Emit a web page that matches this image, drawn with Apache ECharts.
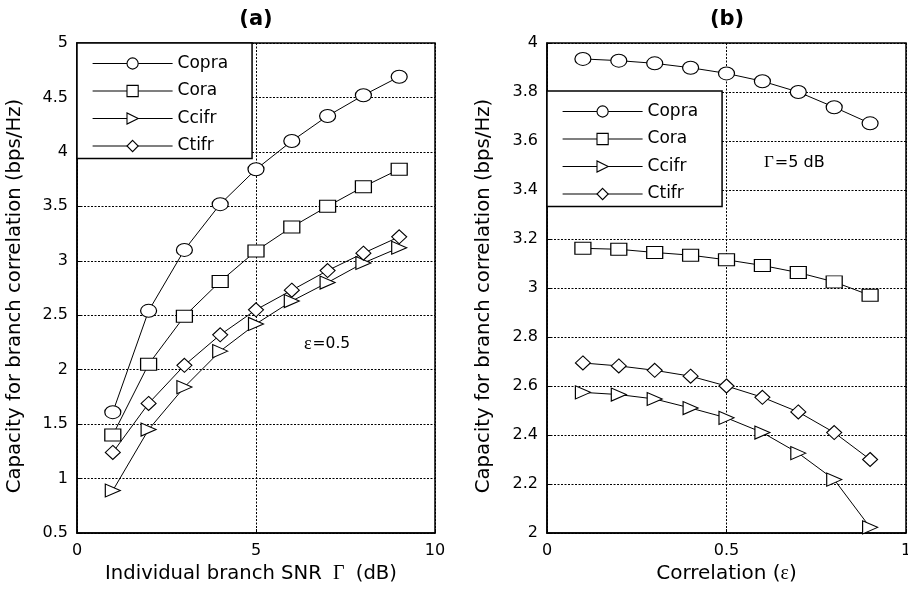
<!DOCTYPE html>
<html>
<head>
<meta charset="utf-8">
<script src="https://cdn.jsdelivr.net/npm/echarts@6/dist/echarts.min.js"></script>
<style>
  html, body { margin: 0; padding: 0; background: #fff; }
  #chart { width: 908px; height: 596px; }
</style>
</head>
<body>
<div id="chart"></div>
<script>
// Capacity for branch correlation: (a) versus branch SNR, (b) versus correlation
const seriesNames = ['Copra', 'Cora', 'Ccifr', 'Ctifr'];

// (a) epsilon = 0.5
const snrDb = [1, 2, 3, 4, 5, 6, 7, 8, 9];
const snrCopra = [1.61, 2.54, 3.10, 3.52, 3.84, 4.10, 4.33, 4.52, 4.69];
const snrCora  = [1.40, 2.05, 2.49, 2.81, 3.09, 3.31, 3.50, 3.68, 3.84];
const snrCcifr = [0.89, 1.45, 1.84, 2.17, 2.42, 2.63, 2.80, 2.98, 3.12];
const snrCtifr = [1.24, 1.69, 2.04, 2.32, 2.55, 2.73, 2.91, 3.07, 3.22];

// (b) Gamma = 5 dB
const corr = [0.1, 0.2, 0.3, 0.4, 0.5, 0.6, 0.7, 0.8, 0.9];
const corrCopra = [3.935, 3.928, 3.917, 3.899, 3.876, 3.844, 3.800, 3.738, 3.672];
const corrCora  = [3.162, 3.158, 3.145, 3.134, 3.115, 3.092, 3.063, 3.025, 2.970];
const corrCcifr = [2.574, 2.565, 2.547, 2.510, 2.470, 2.410, 2.326, 2.218, 2.023];
const corrCtifr = [2.694, 2.682, 2.664, 2.640, 2.600, 2.554, 2.494, 2.410, 2.300];

const SANS = "'DejaVu Sans', 'Liberation Sans', Arial, sans-serif";
const SERIF = "'Liberation Serif', 'DejaVu Serif', 'Times New Roman', serif";

const markers = {
  Copra: { symbol: 'circle',   symbolSize: [16, 13], symbolRotate: 0 },
  Cora:  { symbol: 'rect',     symbolSize: [16, 12], symbolRotate: 0 },
  Ccifr: { symbol: 'triangle', symbolSize: [13, 15], symbolRotate: -90 },
  Ctifr: { symbol: 'diamond',  symbolSize: [15, 14], symbolRotate: 0 }
};

function pairs(xs, ys) { return xs.map((x, i) => [x, ys[i]]); }

function makeSeries(name, xs, ys, axisIndex) {
  const m = markers[name];
  return {
    name: name,
    type: 'line',
    xAxisIndex: axisIndex,
    yAxisIndex: axisIndex,
    data: pairs(xs, ys),
    symbol: m.symbol,
    symbolSize: m.symbolSize,
    symbolRotate: m.symbolRotate,
    lineStyle: { color: '#000', width: 1 },
    itemStyle: { color: '#fff', borderColor: '#000', borderWidth: 1.1 },
    emphasis: { disabled: true },
    animation: false
  };
}

const splitStyle = { show: true, lineStyle: { color: '#000', width: 1, type: [2, 1.5] } };
const frameLine = { show: true, onZero: false, lineStyle: { color: '#000', width: 1.5 } };
const tickLabel = { color: '#000', fontSize: 16, fontFamily: SANS };

function xAxisOf(gridIndex, min, max, interval, name, fontSize, padding) {
  return {
    type: 'value', gridIndex, min, max, interval,
    axisLine: frameLine,
    axisTick: { show: true, inside: true, length: 4, lineStyle: { color: '#000' } },
    axisLabel: Object.assign({ margin: 10 }, tickLabel),
    splitLine: splitStyle,
    name: name,
    nameLocation: 'middle',
    nameGap: 29,
    nameTextStyle: {
      color: '#000', fontSize: fontSize, fontFamily: SANS, padding: padding,
      rich: { g: { fontFamily: SERIF, fontSize: 20, color: '#000', padding: [0, 5, 0, 5] },
              e: { fontFamily: SERIF, fontSize: 20, color: '#000' } }
    }
  };
}

function yAxisOf(gridIndex, min, max, interval, gap) {
  return {
    type: 'value', gridIndex, min, max, interval,
    axisLine: frameLine,
    axisTick: { show: true, inside: true, length: 4, lineStyle: { color: '#000' } },
    axisLabel: Object.assign({ margin: 9 }, tickLabel),
    splitLine: splitStyle,
    name: 'Capacity for branch correlation (bps/Hz)',
    nameLocation: 'middle',
    nameGap: gap,
    nameTextStyle: { color: '#000', fontSize: 19.7, fontFamily: SANS, padding: [0, 16, 0, 0] }
  };
}

function legendAt(left, top) {
  return {
    orient: 'vertical',
    left: left, top: top,
    data: seriesNames,
    itemWidth: 80,
    itemHeight: 14,
    itemGap: 10.5,
    padding: [12, 24, 4, 15],
    backgroundColor: '#fff',
    borderColor: '#000',
    borderWidth: 1.5,
    borderRadius: 0,
    selectedMode: false,
    lineStyle: { width: 1.2, color: '#000' },
    itemStyle: { borderWidth: 1.1, borderColor: '#000', color: '#fff' },
    textStyle: { color: '#000', fontSize: 17, fontFamily: SANS }
  };
}

const chart = echarts.init(document.getElementById('chart'), null, { renderer: 'canvas' });

const gridBase = { show: true, borderColor: '#000', borderWidth: 1.5, backgroundColor: 'transparent', containLabel: false, outerBoundsMode: 'none' };

chart.setOption({
  backgroundColor: '#fff',
  animation: false,
  grid: [
    Object.assign({ left: 77, top: 43, width: 358, height: 490 }, gridBase),
    Object.assign({ left: 547, top: 43, width: 359, height: 490 }, gridBase)
  ],
  xAxis: [
    xAxisOf(0, 0, 10, 5, 'Individual branch SNR {g|Γ} (dB)', 19.6, [0, 10, 0, 0]),
    xAxisOf(1, 0, 1, 0.5, 'Correlation ({e|ε})', 20, 0)
  ],
  yAxis: [
    yAxisOf(0, 0.5, 5, 0.5, 52),
    yAxisOf(1, 2, 4, 0.2, 53)
  ],
  legend: [legendAt(77, 43), legendAt(547, 91)],
  series: [
    makeSeries('Copra', snrDb, snrCopra, 0),
    makeSeries('Cora',  snrDb, snrCora,  0),
    makeSeries('Ccifr', snrDb, snrCcifr, 0),
    makeSeries('Ctifr', snrDb, snrCtifr, 0),
    makeSeries('Copra', corr, corrCopra, 1),
    makeSeries('Cora',  corr, corrCora,  1),
    makeSeries('Ccifr', corr, corrCcifr, 1),
    makeSeries('Ctifr', corr, corrCtifr, 1)
  ],
  graphic: [
    { type: 'text', x: 256, y: 20, style: { text: '(a)', font: 'bold 21px ' + SANS, fill: '#000', textAlign: 'center', textVerticalAlign: 'middle' } },
    { type: 'text', x: 727, y: 20, style: { text: '(b)', font: 'bold 21px ' + SANS, fill: '#000', textAlign: 'center', textVerticalAlign: 'middle' } },
    { type: 'text', x: 304, y: 344, style: {
        text: '{s|ε}{n|=0.5}', textVerticalAlign: 'middle', fill: '#000',
        rich: { s: { fontFamily: SERIF, fontSize: 18, fill: '#000', padding: [0, 1, 0, 0] }, n: { fontFamily: SANS, fontSize: 15.5, fill: '#000' } }
    } },
    { type: 'text', x: 764, y: 163, style: {
        text: '{s|Γ}{n|=5 dB}', textVerticalAlign: 'middle', fill: '#000',
        rich: { s: { fontFamily: SERIF, fontSize: 17, fill: '#000', padding: [0, 1, 0, 0] }, n: { fontFamily: SANS, fontSize: 16, fill: '#000' } }
    } }
  ]
});
</script>
</body>
</html>
